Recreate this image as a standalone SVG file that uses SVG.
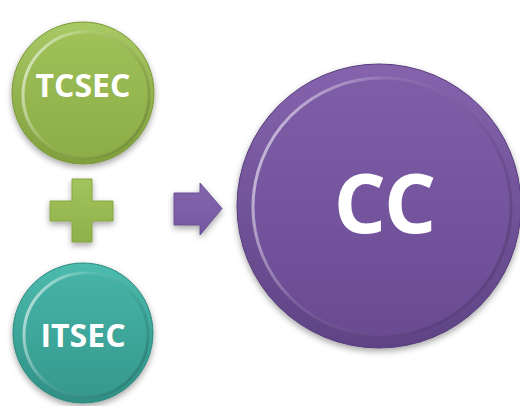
<svg xmlns="http://www.w3.org/2000/svg" width="520" height="406" viewBox="0 0 520 406">
<defs>
<filter id="sh" x="-20%" y="-20%" width="140%" height="150%">
<feDropShadow dx="0" dy="3" stdDeviation="3" flood-color="#000" flood-opacity="0.35"/>
</filter>
<linearGradient id="gOut" x1="0" y1="0" x2="0" y2="1">
<stop offset="0" stop-color="#a8c964"/><stop offset="1" stop-color="#809f3d"/>
</linearGradient>
<linearGradient id="gIn" x1="0" y1="0" x2="0" y2="1">
<stop offset="0" stop-color="#a0c158"/><stop offset="1" stop-color="#8cad47"/>
</linearGradient>
<linearGradient id="tOut" x1="0" y1="0" x2="0" y2="1">
<stop offset="0" stop-color="#4cbcae"/><stop offset="1" stop-color="#2f8f84"/>
</linearGradient>
<linearGradient id="tIn" x1="0" y1="0" x2="0" y2="1">
<stop offset="0" stop-color="#45b3a6"/><stop offset="1" stop-color="#37998e"/>
</linearGradient>
<linearGradient id="pOut" x1="0" y1="0" x2="0" y2="1">
<stop offset="0" stop-color="#8564ad"/><stop offset="1" stop-color="#5e4385"/>
</linearGradient>
<linearGradient id="pIn" x1="0" y1="0" x2="0" y2="1">
<stop offset="0" stop-color="#7f5ea8"/><stop offset="1" stop-color="#6a4b92"/>
</linearGradient>
<linearGradient id="rim" x1="0" y1="0.3" x2="1" y2="0.7">
<stop offset="0" stop-color="#fff" stop-opacity="0.6"/><stop offset="0.35" stop-color="#fff" stop-opacity="0.1"/><stop offset="0.8" stop-color="#000" stop-opacity="0.08"/><stop offset="1" stop-color="#000" stop-opacity="0.15"/>
</linearGradient>
<linearGradient id="plusG" x1="0" y1="0" x2="0" y2="1">
<stop offset="0" stop-color="#a3c35c"/><stop offset="1" stop-color="#8fb04a"/>
</linearGradient>
<linearGradient id="arrG" x1="0" y1="0" x2="0" y2="1">
<stop offset="0" stop-color="#8566ad"/><stop offset="1" stop-color="#7457a0"/>
</linearGradient>
</defs>
<style>
.lbl{font-family:"Open Sans","Liberation Sans",sans-serif;font-weight:bold;fill:#fff;text-anchor:middle}
.rim{fill:none;stroke:url(#rim);stroke-width:3}
</style>
<g id="tcsec">
<circle cx="83" cy="93" r="71" fill="url(#gOut)" stroke="#7a9838" stroke-width="1" filter="url(#sh)"/>
<circle cx="86" cy="95" r="63" fill="url(#gIn)"/>
<circle cx="86" cy="95" r="63" class="rim"/>
<text class="lbl" x="83" y="97" font-size="32">TCSEC</text>
</g>
<g id="itsec">
<circle cx="83" cy="333" r="70" fill="url(#tOut)" stroke="#2e8a7f" stroke-width="1" filter="url(#sh)"/>
<circle cx="86" cy="335" r="62" fill="url(#tIn)"/>
<circle cx="86" cy="335" r="62" class="rim"/>
<text class="lbl" x="83" y="347" font-size="32">ITSEC</text>
</g>
<g id="cc">
<circle cx="379" cy="206" r="142" fill="url(#pOut)" stroke="#553c7a" stroke-width="1" filter="url(#sh)"/>
<circle cx="382" cy="207" r="129" fill="url(#pIn)"/>
<circle cx="382" cy="207" r="129" class="rim" stroke-width="4"/>
<text class="lbl" x="384" y="233" font-size="82" letter-spacing="-2">CC</text>
</g>
<g id="connectors">
<path id="plus" d="M72 179 H92 V201 H113 V221 H92 V242 H72 V221 H50 V201 H72 Z" fill="url(#plusG)" stroke="#86a540" stroke-width="1" filter="url(#sh)"/>
<path id="arrow" d="M174 193 H200 V183 L222 208.5 L200 235 V225 H174 Z" fill="url(#arrG)" stroke="#6a4e94" stroke-width="1" filter="url(#sh)"/>
</g>
</svg>
